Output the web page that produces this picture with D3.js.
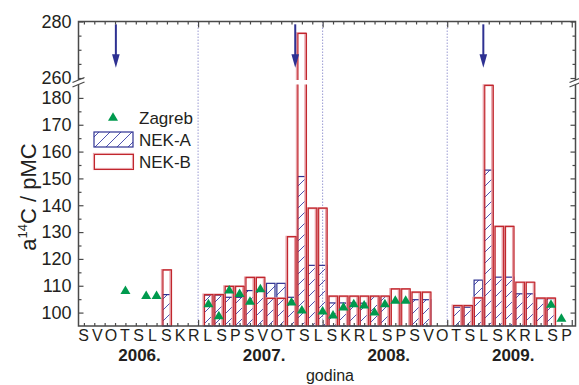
<!DOCTYPE html>
<html>
<head>
<meta charset="utf-8">
<script src="https://cdnjs.cloudflare.com/ajax/libs/d3/7.8.5/d3.min.js"></script>
<style>
  body { margin: 0; background: #ffffff; }
  svg text { font-family: 'Liberation Sans', Arial, Helvetica, sans-serif; fill: #231f20; }
</style>
</head>
<body>
<div id="graph"></div>
<script>
// The data...  (month = 'YYYY-MM', bars/points sit at year + month/12)
var nekMonths = [ '2006-09',
                  '2007-01', '2007-02', '2007-03', '2007-04', '2007-05', '2007-06',
                  '2007-07', '2007-08', '2007-09', '2007-10', '2007-11', '2007-12',
                  '2008-01', '2008-02', '2008-03', '2008-04', '2008-05', '2008-06',
                  '2008-07', '2008-08', '2008-09', '2008-10',
                  '2009-01', '2009-02', '2009-03', '2009-04', '2009-05', '2009-06',
                  '2009-07', '2009-08', '2009-09', '2009-10' ];

var nekA = [ 106.7,
             106.4, 106.4, 105.7, 105.7, 108.2, 108.2,
             110.9, 110.9, 105.7, 150.7, 117.6, 117.6,
             103.6, 103.6, 103.6, 103.5, 106.0, 106.0,
             null,  null,  104.8, 104.8,
             102.0, 102.0, 112.1, 153.1, 113.2, 113.2,
             107.0, 107.0, 105.2, 105.2 ];

var nekB = [ 115.9,
             106.7, 106.7, 109.8, 109.8, 113.1, 113.1,
             105.3, 105.3, 128.3, 275.8, 138.9, 138.9,
             106.1, 106.1, 106.1, 106.1, 106.1, 106.1,
             108.8, 108.8, 107.6, 107.6,
             102.6, 102.6, 105.5, 184.7, 132.1, 132.1,
             111.3, 111.3, 105.4, 105.4 ];

var zagMonths = [ '2006-05', '2006-07', '2006-08',
                  '2007-01', '2007-02', '2007-03', '2007-04', '2007-05', '2007-06',
                  '2007-09', '2007-10', '2007-12',
                  '2008-01', '2008-02', '2008-03', '2008-04', '2008-05', '2008-06',
                  '2008-07', '2008-08',
                  '2009-10', '2009-11' ];

var zagreb = [ 108.3, 106.4, 106.4,
               103.4, 98.9, 108.5, 107.2, 104.3, 109.0,
               104.0, 101.0, 100.7,
               99.2, 102.2, 103.4, 102.9, 100.3, 103.4,
               104.7, 104.7,
               103.2, 98.0 ];

// outage arrows (decimal year)
var arrowDates = [ 2006.34, 2007.78, 2009.29 ];

var years        = [ 2006, 2007, 2008, 2009 ];
var monthLetters = [ 'S', 'V', 'O', 'T', 'S', 'L', 'S', 'K', 'R', 'L', 'S', 'P' ];
var lowTicks     = [ 100, 110, 120, 130, 140, 150, 160, 170, 180 ];
var highTicks    = [ 260, 280 ];

var seriesNames = [ 'Zagreb', 'NEK-A', 'NEK-B' ];


function D3App ()
{
    var W = 579, H = 385;

    var left = 78.5, right = 575.5, top = 21.5, bottom = 326;

    var lowDomain  = [ 95, 185 ];
    var highDomain = [ 259.3, 280 ];

    var colBlue  = '#2e3192';
    var colHatch = '#3b3fa6';
    var colRed   = '#c1272d';
    var colPink  = '#e8a3aa';
    var colGreen = '#009a4e';
    var colAxis  = '#4a4a4a';

    var toYear = function (s) { var p = s.split ('-'); return +p[0] + (+p[1]) / 12; };

    var svg = d3.select ('#graph').append ('svg')
                .attr ('width', W)
                .attr ('height', H);

    // hatching for NEK-A
    svg.append ('defs').append ('pattern')
       .attr ('id', 'hatch')
       .attr ('patternUnits', 'userSpaceOnUse')
       .attr ('width', 11)
       .attr ('height', 11)
       .append ('path')
       .attr ('d', 'M-1,1 l2,-2 M0,11 l11,-11 M10,12 l2,-2')
       .attr ('stroke', colHatch)
       .attr ('stroke-width', 0.9);

    var xScale = d3.scaleLinear ()
                   .domain ([ 2006.04, 2010.03 ])
                   .range ([ left, right ]);

    var yLow = d3.scaleLinear ()
                 .domain (lowDomain)
                 .range ([ bottom, 84.5 ]);

    var yHigh = d3.scaleLinear ()
                  .domain (highDomain)
                  .range ([ 80, top ]);

    var monthW = xScale (2007 + 1 / 12) - xScale (2007);
    var barW   = monthW * 0.82;

    // year separators
    svg.selectAll ('.sep')
       .data (years.slice (1))
       .enter ()
       .append ('line')
       .attr ('x1', function (d) { return xScale (d); })
       .attr ('x2', function (d) { return xScale (d); })
       .attr ('y1', top)
       .attr ('y2', bottom)
       .attr ('stroke', '#9b9bd3')
       .attr ('stroke-width', 1)
       .attr ('stroke-dasharray', '1.5,1.5');

    // NEK-A bars (hatched)
    var aData = nekMonths.map (function (m, i) { return { t: toYear (m), v: nekA[i] }; })
                         .filter (function (d) { return d.v != null; });

    svg.selectAll ('.barA')
       .data (aData)
       .enter ()
       .append ('rect')
       .attr ('x', function (d) { return xScale (d.t) - barW / 2; })
       .attr ('y', function (d) { return yLow (d.v); })
       .attr ('width', barW)
       .attr ('height', function (d) { return yLow (lowDomain[0]) - yLow (d.v); })
       .attr ('fill', 'url(#hatch)')
       .attr ('stroke', colBlue)
       .attr ('stroke-width', 1.2);

    // NEK-B bars (outline, may cross the axis break)
    var barPath = function (t, v, dx)
    {
        var x0 = xScale (t) - barW / 2 + dx, x1 = x0 + barW;
        var yb = yLow (lowDomain[0]);

        if (v <= lowDomain[1])
            return 'M' + x0 + ',' + yb + 'V' + yLow (v) + 'H' + x1 + 'V' + yb;

        var yl = yLow (lowDomain[1]), yh = yHigh (highDomain[0]);
        return 'M' + x0 + ',' + yb + 'V' + yl +
               'M' + x1 + ',' + yl + 'V' + yb +
               'M' + x0 + ',' + yh + 'V' + yHigh (v) + 'H' + x1 + 'V' + yh;
    };

    var bData = nekMonths.map (function (m, i) { return { t: toYear (m), v: nekB[i] }; });

    svg.selectAll ('.barBshadow')
       .data (bData)
       .enter ()
       .append ('path')
       .attr ('d', function (d) { return barPath (d.t, d.v, -0.8); })
       .attr ('fill', 'none')
       .attr ('stroke', colPink)
       .attr ('stroke-width', 2);

    svg.selectAll ('.barB')
       .data (bData)
       .enter ()
       .append ('path')
       .attr ('d', function (d) { return barPath (d.t, d.v, 0.3); })
       .attr ('fill', 'none')
       .attr ('stroke', colRed)
       .attr ('stroke-width', 1.2);

    // Zagreb triangles
    var tri = 'M0,-4.8 L5,3.7 L-5,3.7 Z';

    svg.selectAll ('.zag')
       .data (zagreb)
       .enter ()
       .append ('path')
       .attr ('d', tri)
       .attr ('transform', function (d, i) { return 'translate(' + xScale (toYear (zagMonths[i])) + ',' + yLow (d) + ')'; })
       .attr ('fill', colGreen);

    // arrows
    arrowDates.forEach (function (t)
    {
        var xa = xScale (t);
        svg.append ('line')
           .attr ('x1', xa).attr ('x2', xa)
           .attr ('y1', yHigh (279)).attr ('y2', yHigh (267))
           .attr ('stroke', colBlue)
           .attr ('stroke-width', 2);
        svg.append ('path')
           .attr ('d', 'M' + (xa - 3.8) + ',' + yHigh (268.4) + 'L' + (xa + 3.8) + ',' + yHigh (268.4) +
                       'L' + xa + ',' + yHigh (263.6) + 'Z')
           .attr ('fill', colBlue);
    });

    //
    // Axes
    //
    var months = d3.range (2006 + 1 / 12, 2010.02, 1 / 12).filter (function (d) { return Math.abs (d - Math.round (d)) > 0.01; });

    var styleAxis = function (g)
    {
        g.select ('.domain').remove ();
        g.selectAll ('line').attr ('stroke', colAxis).attr ('stroke-width', 1.2);
        g.selectAll ('text').attr ('font-size', '18px').attr ('fill', '#231f20')
         .attr ('font-family', "'Liberation Sans', Arial, sans-serif");
    };

    svg.append ('g').attr ('transform', 'translate(0,' + bottom + ')')
       .call (d3.axisBottom (xScale).tickValues (months).tickSize (-3).tickFormat (''))
       .call (styleAxis);
    svg.append ('g').attr ('transform', 'translate(0,' + bottom + ')')
       .call (d3.axisBottom (xScale).tickValues (years.slice (1).concat ([2010])).tickSize (-6).tickFormat (''))
       .call (styleAxis);
    svg.append ('g').attr ('transform', 'translate(0,' + top + ')')
       .call (d3.axisTop (xScale).tickValues (months).tickSize (-3).tickFormat (''))
       .call (styleAxis);
    svg.append ('g').attr ('transform', 'translate(0,' + top + ')')
       .call (d3.axisTop (xScale).tickValues (years.slice (1).concat ([2010])).tickSize (-6).tickFormat (''))
       .call (styleAxis);

    var lowMinor  = lowTicks.map (function (d) { return d + 5; }).filter (function (d) { return d < lowDomain[1]; });
    var highMinor = [ 265, 270, 275 ];

    [ [ 'left', left ], [ 'right', right ] ].forEach (function (s)
    {
        var mk  = s[0] == 'left' ? d3.axisLeft : d3.axisRight;
        var fmt = s[0] == 'left' ? d3.format ('d') : function () { return ''; };

        svg.append ('g').attr ('transform', 'translate(' + s[1] + ',0)')
           .call (mk (yLow).tickValues (lowTicks).tickSize (-5).tickPadding (7).tickFormat (fmt))
           .call (styleAxis);
        svg.append ('g').attr ('transform', 'translate(' + s[1] + ',0)')
           .call (mk (yLow).tickValues (lowMinor).tickSize (-3).tickFormat (''))
           .call (styleAxis);
        svg.append ('g').attr ('transform', 'translate(' + s[1] + ',0)')
           .call (mk (yHigh).tickValues (highTicks).tickSize (-5).tickPadding (7).tickFormat (fmt))
           .call (styleAxis);
        svg.append ('g').attr ('transform', 'translate(' + s[1] + ',0)')
           .call (mk (yHigh).tickValues (highMinor).tickSize (-3).tickFormat (''))
           .call (styleAxis);
    });

    // frame with breaks
    var yBreakHi = yHigh (highDomain[0]), yBreakLo = yLow (lowDomain[1]);
    var frame = 'M' + left + ',' + yBreakHi + 'V' + top + 'H' + right + 'V' + yBreakHi +
                'M' + left + ',' + yBreakLo + 'V' + bottom + 'H' + right + 'V' + yBreakLo;

    svg.append ('path')
       .attr ('d', frame)
       .attr ('fill', 'none')
       .attr ('stroke', colAxis)
       .attr ('stroke-width', 1.5);

    [ left, right ].forEach (function (xb)
    {
        [ yBreakHi, yBreakLo ].forEach (function (yb)
        {
            svg.append ('line')
               .attr ('x1', xb - 6).attr ('y1', yb + 2.5)
               .attr ('x2', xb + 6).attr ('y2', yb - 2.5)
               .attr ('stroke', colAxis)
               .attr ('stroke-width', 1.2);
        });
    });

    // month letters under the axis
    var letters = [];
    years.slice (0, 3).forEach (function () { letters = letters.concat (monthLetters); });

    var lScale = d3.scalePoint ()
                   .domain (d3.range (letters.length))
                   .range ([ 83.5, 566.5 ]);

    svg.selectAll ('.mlab')
       .data (letters)
       .enter ()
       .append ('text')
       .attr ('x', function (d, i) { return lScale (i); })
       .attr ('y', 341)
       .attr ('text-anchor', 'middle')
       .attr ('font-size', '16px')
       .text (function (d) { return d; });

    svg.selectAll ('.ylab')
       .data (years)
       .enter ()
       .append ('text')
       .attr ('x', function (d) { return xScale (d + 0.53); })
       .attr ('y', 361)
       .attr ('text-anchor', 'middle')
       .attr ('font-size', '17px')
       .attr ('font-weight', 'bold')
       .text (function (d) { return d + '.'; });

    svg.append ('text')
       .attr ('x', (left + right) / 2 + 3)
       .attr ('y', 381)
       .attr ('text-anchor', 'middle')
       .attr ('font-size', '16px')
       .text ('godina');

    var yt = svg.append ('text')
                .attr ('transform', 'translate(36,197) rotate(-90)')
                .attr ('text-anchor', 'middle')
                .attr ('font-size', '22px');
    yt.append ('tspan').text ('a');
    yt.append ('tspan').attr ('font-size', '13px').attr ('dy', -9).text ('14');
    yt.append ('tspan').attr ('dy', 9).text ('C / pMC');

    //
    // Legend
    //
    svg.append ('path')
       .attr ('d', tri)
       .attr ('transform', 'translate(113,117)')
       .attr ('fill', colGreen);

    svg.append ('rect')
       .attr ('x', 94).attr ('y', 132).attr ('width', 39).attr ('height', 15)
       .attr ('fill', 'url(#hatch)')
       .attr ('stroke', colBlue)
       .attr ('stroke-width', 1.2);

    svg.append ('rect')
       .attr ('x', 94).attr ('y', 154).attr ('width', 39).attr ('height', 15)
       .attr ('fill', 'none')
       .attr ('stroke', colPink)
       .attr ('stroke-width', 2.2);
    svg.append ('rect')
       .attr ('x', 94.5).attr ('y', 154.5).attr ('width', 39).attr ('height', 15)
       .attr ('fill', 'none')
       .attr ('stroke', colRed)
       .attr ('stroke-width', 1);

    svg.selectAll ('.leg')
       .data (seriesNames)
       .enter ()
       .append ('text')
       .attr ('x', 139)
       .attr ('y', function (d, i) { return 124 + i * 22; })
       .attr ('font-size', '17px')
       .text (function (d) { return d; });
}

D3App ();
</script>
</body>
</html>
